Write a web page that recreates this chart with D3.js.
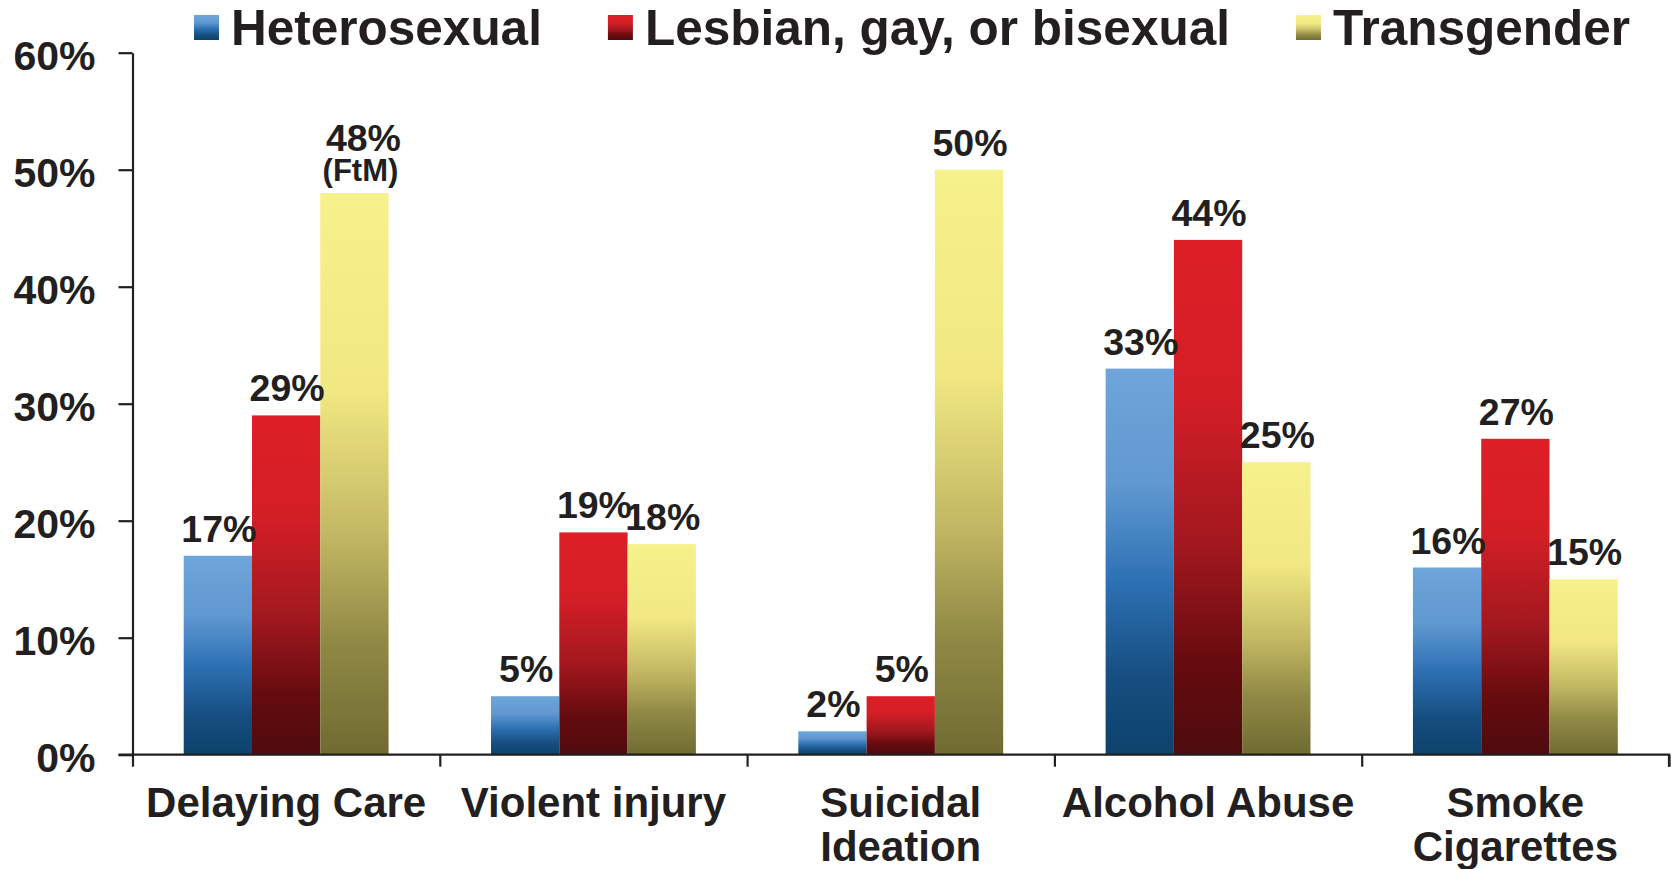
<!DOCTYPE html>
<html>
<head>
<meta charset="utf-8">
<script src="https://cdn.jsdelivr.net/npm/d3@7"></script>
<style>
  body { margin: 0; background: #fff; }
  text { font-family: "Liberation Sans", Arial, sans-serif; font-weight: bold; fill: #231f20; }
</style>
</head>
<body>
<div id="chart"></div>
<script>
// data
var categories = [["Delaying Care"], ["Violent injury"], ["Suicidal", "Ideation"], ["Alcohol Abuse"], ["Smoke", "Cigarettes"]];
var seriesNames = ["Heterosexual", "Lesbian, gay, or bisexual", "Transgender"];
var hetero = [17, 5, 2, 33, 16];
var lgb = [29, 19, 5, 44, 27];
var trans = [48, 18, 50, 25, 15];
var transNotes = ["(FtM)", "", "", "", ""];
var yTicks = [0, 10, 20, 30, 40, 50, 60];

var values = [hetero, lgb, trans];

// gradient stops per series (top -> bottom)
var gradients = [
    [["0%", "#6ea5da"], ["30%", "#6098d0"], ["55%", "#2d71b4"], ["80%", "#164e80"], ["100%", "#0d426c"]],
    [["0%", "#dd1f26"], ["30%", "#d41e26"], ["60%", "#a0181e"], ["82%", "#660b0e"], ["100%", "#4e0c0e"]],
    [["0%", "#f7f18b"], ["35%", "#f1e883"], ["60%", "#c4b964"], ["80%", "#908945"], ["100%", "#6f6b32"]]
];

var width = 1673;
var height = 869;
var plotLeft = 132.5, plotRight = 1669, plotTop = 52.7, plotBottom = 754.7;

var svg = d3.select('#chart')
    .append('svg')
    .attr('width', width)
    .attr('height', height);

var defs = svg.append('defs');
gradients.forEach(function(stops, i) {
    var g = defs.append('linearGradient')
        .attr('id', 'grad' + i)
        .attr('x1', 0).attr('y1', 0)
        .attr('x2', 0).attr('y2', 1);
    stops.forEach(function(s) {
        g.append('stop').attr('offset', s[0]).attr('stop-color', s[1]);
    });
});

var catIdx = d3.range(categories.length);

var x0 = d3.scaleBand()
    .domain(catIdx)
    .range([plotLeft, plotRight]);

var x1 = d3.scaleBand()
    .domain(d3.range(seriesNames.length))
    .range([0, x0.bandwidth()])
    .paddingOuter(0.75);

var y = d3.scaleLinear()
    .domain([0, 60])
    .range([plotBottom, plotTop]);

// bars
var groups = svg.append('g')
    .selectAll('g')
    .data(values)
    .enter()
    .append('g')
    .attr('fill', (d, i) => 'url(#grad' + i + ')');

groups.selectAll('rect')
    .data((d, i) => d.map((v, j) => ({ s: i, c: j, v: v })))
    .enter()
    .append('rect')
    .attr('x', d => x0(d.c) + x1(d.s))
    .attr('y', d => y(d.v))
    .attr('width', x1.bandwidth())
    .attr('height', d => y(0) - y(d.v));

// y axis
var yAxis = svg.append('g')
    .attr('transform', 'translate(' + plotLeft + ',0)')
    .call(d3.axisLeft(y)
        .tickValues(yTicks)
        .tickSize(14)
        .tickSizeOuter(0)
        .tickPadding(23)
        .tickFormat(d => d + '%'));
yAxis.selectAll('line, path').attr('stroke', '#231f20').attr('stroke-width', 2.2);
yAxis.selectAll('text')
    .attr('dy', '0.4em')
    .style('font-size', '41px');

// x axis, ticks at category boundaries
var xb = d3.scaleLinear().domain([0, categories.length]).range([plotLeft, plotRight]);
var xAxis = svg.append('g')
    .attr('transform', 'translate(0,' + plotBottom + ')')
    .call(d3.axisBottom(xb)
        .ticks(categories.length)
        .tickSize(12)
        .tickSizeOuter(12)
        .tickFormat(''));
xAxis.selectAll('line, path').attr('stroke', '#231f20').attr('stroke-width', 2.2);
xAxis.select('path').attr('d', 'M' + (plotLeft - 14) + ',0H' + plotRight + 'V12');

// category labels
svg.append('g')
    .selectAll('text')
    .data(categories)
    .enter()
    .append('text')
    .attr('text-anchor', 'middle')
    .style('font-size', '42px')
    .each(function(lines, i) {
        var t = d3.select(this);
        lines.forEach(function(line, k) {
            t.append('tspan')
                .attr('x', x0(i) + x0.bandwidth() / 2)
                .attr('y', 817 + k * 43.5)
                .text(line);
        });
    });

// value labels
var labels = svg.append('g');
values.forEach(function(vals, s) {
    vals.forEach(function(v, c) {
        var cx = x0(c) + x1(s) + x1.bandwidth() / 2;
        var note = s === 2 ? transNotes[c] : '';
        if (note) {
            cx += 6;
            labels.append('text')
                .attr('x', cx)
                .attr('y', y(v) - 12)
                .attr('text-anchor', 'middle')
                .style('font-size', '31px')
                .text(note);
            labels.append('text')
                .attr('x', cx + 3)
                .attr('y', y(v) - 42)
                .attr('text-anchor', 'middle')
                .style('font-size', '37.5px')
                .text(v + '%');
        } else {
            labels.append('text')
                .attr('x', cx + 1)
                .attr('y', y(v) - 14)
                .attr('text-anchor', 'middle')
                .style('font-size', '37.5px')
                .text(v + '%');
        }
    });
});

// legend
var legend = svg.append('g');
var lx = 194;
seriesNames.forEach(function(name, i) {
    legend.append('rect')
        .attr('x', lx)
        .attr('y', 15)
        .attr('width', 25)
        .attr('height', 25)
        .attr('fill', 'url(#grad' + i + ')');
    var t = legend.append('text')
        .attr('x', lx + 37)
        .attr('y', 45)
        .style('font-size', '49.5px')
        .text(name);
    lx += 37 + t.node().getComputedTextLength() + 66;
});
</script>
</body>
</html>
